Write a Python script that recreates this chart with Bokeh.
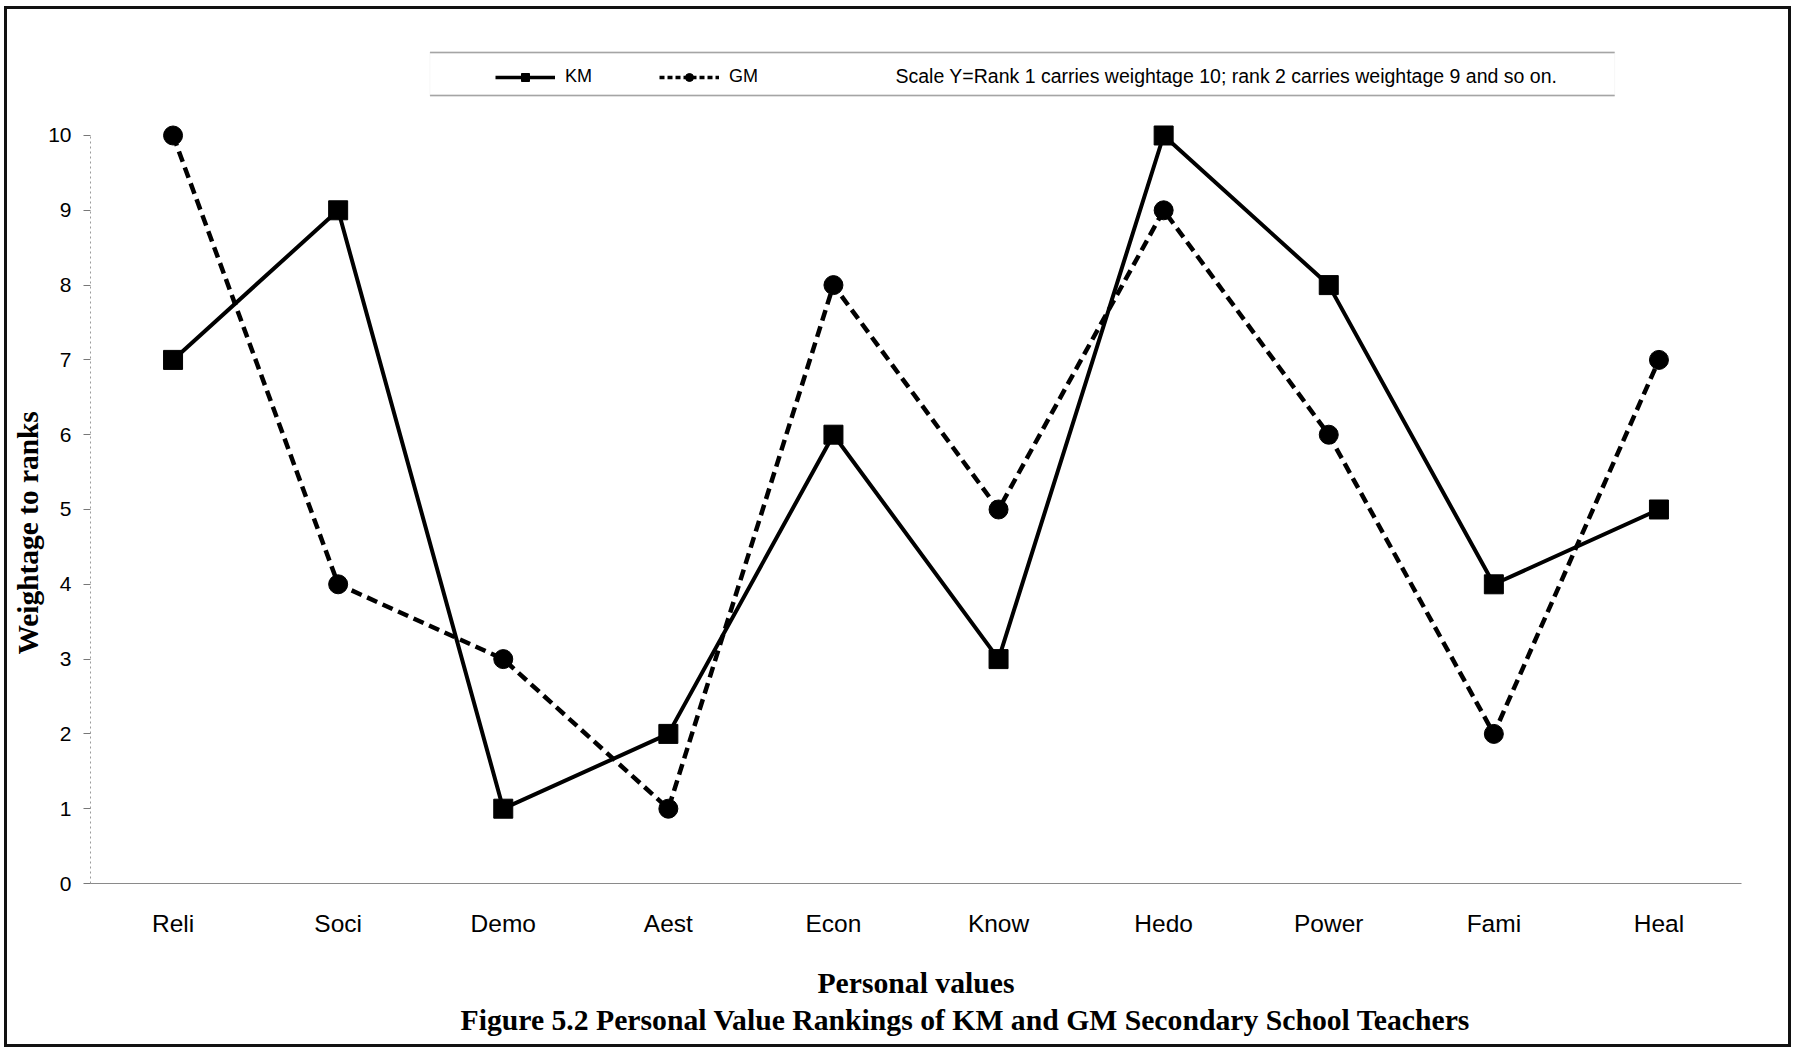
from bokeh.plotting import figure
from bokeh.models import (FactorRange, Range1d, Label, BoxAnnotation, Legend,
                          LegendItem, ColumnDataSource, Title)
from bokeh.embed import file_html
from bokeh.resources import INLINE

# Personal values (x axis) and weightage to ranks for each teacher group
categories = ["Reli", "Soci", "Demo", "Aest", "Econ", "Know", "Hedo", "Power", "Fami", "Heal"]
km_weight = [7, 9, 1, 2, 6, 3, 10, 8, 4, 5]
gm_weight = [10, 4, 3, 1, 8, 5, 9, 6, 2, 7]
y_ticks = list(range(0, 11))

SANS = "Liberation Sans"
SERIF = "Liberation Serif"

p = figure(width=1787, height=1041,
           x_range=FactorRange(*categories), y_range=Range1d(0, 11.27),
           output_backend="svg", toolbar_location=None,
           min_border_left=81, min_border_right=53,
           min_border_top=31, min_border_bottom=167)
p.styles = {"border": "3px solid #111111", "margin-left": "4px", "margin-top": "6px"}
p.outline_line_color = None
p.grid.visible = False
p.background_fill_color = "white"
p.border_fill_color = "white"

src = ColumnDataSource(dict(cat=categories, km=km_weight, gm=gm_weight))

# KM: solid line with square markers
p.line("cat", "km", source=src, line_color="black", line_width=4)
p.scatter("cat", "km", source=src, marker="square", size=19, color="black")

# GM: dashed line with round markers
p.line("cat", "gm", source=src, line_color="black", line_width=4.5, line_dash="11 6")
p.scatter("cat", "gm", source=src, marker="circle", size=19, color="black")

# smaller sample glyphs for the legend (kept below the visible range)
hidden = ColumnDataSource(dict(cat=[categories[0]], v=[-100]))
km_l = p.line("cat", "v", source=hidden, line_color="black", line_width=3.5)
km_m = p.scatter("cat", "v", source=hidden, marker="square", size=12, color="black")
gm_l = p.line("cat", "v", source=hidden, line_color="black", line_width=3.5, line_dash="5 3")
gm_m = p.scatter("cat", "v", source=hidden, marker="circle", size=12, color="black")

legend = Legend(items=[LegendItem(label="KM", renderers=[km_l, km_m]),
                       LegendItem(label="GM", renderers=[gm_l, gm_m])],
                orientation="horizontal", location=(405, 796),
                glyph_width=60, glyph_height=20, label_height=20,
                label_standoff=10, spacing=67, padding=0, margin=0,
                label_text_font=SANS, label_text_font_size="18px",
                label_text_color="black",
                border_line_color=None, background_fill_alpha=0)
p.add_layout(legend)

# strip holding the legend: faint sides, grey rules above and below
p.add_layout(BoxAnnotation(left=2.056, right=9.232, bottom=10.535, top=11.11,
                           fill_alpha=0, line_color="#e2e2e2", line_width=1))
p.segment(x0=[2.056, 2.056], y0=[11.11, 10.535], x1=[9.232, 9.232], y1=[11.11, 10.535],
          line_color="#8c8c8c", line_width=1.4)

p.add_layout(Label(x=805, y=808, x_units="screen", y_units="screen",
                   text="Scale Y=Rank 1 carries weightage 10; rank 2 carries weightage 9 and so on.",
                   text_font=SANS, text_font_size="19.5px", text_baseline="middle",
                   text_color="black"))

# axes
xa = p.xaxis[0]
xa.axis_line_color = "#8a8a8a"
xa.axis_line_width = 1.2
xa.major_tick_line_color = None
xa.minor_tick_line_color = None
xa.major_tick_out = 0
xa.major_label_standoff = 26
xa.major_label_text_font = SANS
xa.major_label_text_font_size = "24.5px"
xa.major_label_text_color = "black"
xa.axis_label = "Personal values"
xa.axis_label_standoff = 27
xa.axis_label_text_font = SERIF
xa.axis_label_text_font_style = "bold"
xa.axis_label_text_font_size = "29.7px"
xa.axis_label_text_color = "black"

ya = p.yaxis[0]
ya.ticker = y_ticks
ya.bounds = (0, 10)
ya.axis_line_color = "#9a9a9a"
ya.axis_line_dash = "2 3"
ya.major_tick_line_color = "#777777"
ya.major_tick_out = 7
ya.major_tick_in = 0
ya.minor_tick_line_color = None
ya.major_label_standoff = 12
ya.major_label_text_font = SANS
ya.major_label_text_font_size = "21px"
ya.major_label_text_color = "black"

# vertical axis title, set off towards the lower part of the frame
p.add_layout(Title(text="Weightage to ranks", align="left", offset=229, standoff=4,
                   text_font=SERIF, text_font_style="bold", text_font_size="29.4px",
                   text_color="black"), "left")

# figure caption under the axis title
p.add_layout(Title(text="Figure 5.2 Personal Value Rankings of KM and GM Secondary School Teachers",
                   align="left", offset=370, standoff=0,
                   text_font=SERIF, text_font_style="bold", text_font_size="29.7px",
                   text_color="black"), "below")

open("out.html", "w").write(file_html(p, INLINE))
